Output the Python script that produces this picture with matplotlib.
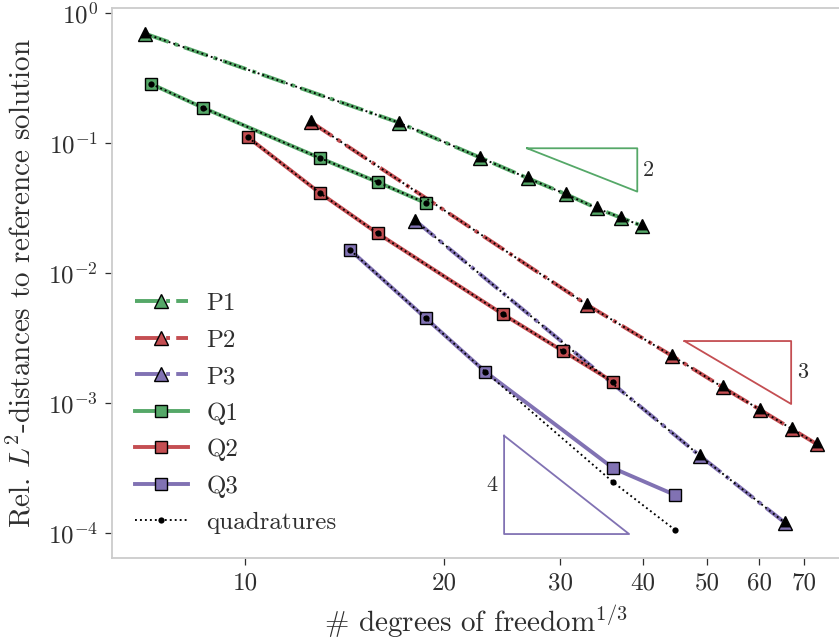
import matplotlib
matplotlib.use("Agg")
import matplotlib.pyplot as plt
from matplotlib.ticker import FixedLocator, NullLocator, LogLocator, LogFormatterSciNotation
from matplotlib.lines import Line2D

# ---------------- data ----------------
p1_x = [7.06, 17.1, 22.7, 26.8, 30.6, 34.05, 37.0, 39.8]
p1_y = [0.69, 0.1425, 0.0767, 0.0532, 0.0401, 0.0313, 0.0265, 0.0230]
p2_x = [12.6, 32.95, 44.2, 52.8, 60.2, 67.3, 73.3]
p2_y = [0.1435, 5.64e-3, 2.30e-3, 1.314e-3, 8.79e-4, 6.24e-4, 4.79e-4]
p3_x = [18.1, 48.8, 65.6]
p3_y = [0.0251, 3.89e-4, 1.19e-4]
q1_x = [7.21, 8.65, 12.98, 15.86, 18.75]
q1_y = [0.283, 0.185, 0.0762, 0.0498, 0.0344]
q2_x = [10.10, 12.98, 15.86, 24.52, 30.29, 36.06]
q2_y = [0.110, 0.0410, 0.0201, 4.81e-3, 2.485e-3, 1.443e-3]
q3_x = [14.42, 18.75, 23.08, 36.06, 44.71]
q3_y = [0.01495, 4.48e-3, 1.732e-3, 3.13e-4, 1.95e-4]

# quadrature-based errors
p1_quad = [0.69, 0.1425, 0.0767, 0.0532, 0.0401, 0.0313, 0.0265, 0.0230]
p2_quad = [0.1435, 5.64e-3, 2.30e-3, 1.314e-3, 8.79e-4, 6.24e-4, 4.79e-4]
p3_quad = [0.0251, 3.89e-4, 1.19e-4]
q1_quad = [0.283, 0.185, 0.0762, 0.0498, 0.0344]
q2_quad = [0.110, 0.0410, 0.0201, 4.81e-3, 2.485e-3, 1.443e-3]
q3_quad = [0.01495, 4.48e-3, 1.732e-3, 2.44e-4, 1.05e-4]

labels = ["P1", "P2", "P3", "Q1", "Q2", "Q3"]
xtick_vals = [10, 20, 30, 40, 50, 60, 70]
xtick_labels = ["10", "20", "30", "40", "50", "60", "70"]

# slope triangles: (x_start, x_end, y_top, slope, label)
slopes = [
    (26.7, 39.2, 0.0906, 2, "2"),
    (46.2, 67.0, 2.98e-3, 3, "3"),
    (24.65, 38.1, 5.57e-4, 4, "4"),
]

# ---------------- style ----------------
plt.rcParams["font.family"] = "serif"
plt.rcParams["font.serif"] = ["cmr10"]
plt.rcParams["mathtext.fontset"] = "cm"
plt.rcParams["axes.formatter.use_mathtext"] = True
plt.rcParams["axes.unicode_minus"] = False

green = "#55a868"
red = "#c44e52"
purple = "#8172b3"
txt = "#2e2e2e"

fig = plt.figure(figsize=(8.39, 6.43), dpi=100)
ax = fig.add_axes([112 / 839, (643 - 558.3) / 643, 727 / 839, 550.3 / 643])
ax.set_xscale("log")
ax.set_yscale("log")

LW = 2.8
QLW = 1.35
TRI_MS = 9.5
# black quadrature triangle: same apex, 80% size -> colored band at bottom
inner_tri = [(0, 1), (-0.8, -0.6), (0.8, -0.6)]

series = [
    (p1_x, p1_y, p1_quad, green, "-.", "^"),
    (p2_x, p2_y, p2_quad, red, "-.", "^"),
    (p3_x, p3_y, p3_quad, purple, "-.", "^"),
    (q1_x, q1_y, q1_quad, green, "-", "s"),
    (q2_x, q2_y, q2_quad, red, "-", "s"),
    (q3_x, q3_y, q3_quad, purple, "-", "s"),
]

handles = []
for (x, y, yq, c, ls, m), lab in zip(series, labels):
    ms = TRI_MS if m == "^" else 8.5
    h, = ax.plot(x, y, color=c, ls=ls, lw=LW, marker=m, ms=ms,
                 mfc=c, mec="black", mew=1.0, zorder=2, label=lab)
    handles.append(h)
for (x, y, yq, c, ls, m) in series:
    if m == "^":
        ax.plot(x, yq, color="black", ls=":", lw=QLW, marker=inner_tri, ms=TRI_MS,
                mfc="black", mec="black", mew=0, zorder=3)
    else:
        ax.plot(x, yq, color="black", ls=":", lw=QLW, marker="o", ms=4.5,
                mfc="black", mec="black", mew=0, zorder=3)

quad_handle = Line2D([], [], color="black", ls=":", lw=QLW, marker="o", ms=4.5,
                     mfc="black", mec="black", mew=0)
handles.append(quad_handle)

# slope triangles
tri_colors = [green, red, purple]
for (x0, x1, y0, s, lab), c in zip(slopes, tri_colors):
    y1 = y0 * (x0 / x1) ** s
    if s < 4:
        xs = [x0, x1, x1, x0]
        ys = [y0, y0, y1, y0]
        ax.plot(xs, ys, color=c, lw=1.3, zorder=1)
        ax.text(x1 * 1.02, (y0 * y1) ** 0.5, lab, fontsize=16, color=txt,
                ha="left", va="center")
    else:
        xs = [x0, x0, x1, x0]
        ys = [y0, y1, y1, y0]
        ax.plot(xs, ys, color=c, lw=1.3, zorder=1)
        ax.text(x0 / 1.025, (y0 * y1) ** 0.5, lab, fontsize=16, color=txt,
                ha="right", va="center")

ax.set_xlim(6.29, 79.15)
ax.set_ylim(6.35e-5, 1.087)

ax.xaxis.set_major_locator(FixedLocator(xtick_vals))
ax.xaxis.set_minor_locator(NullLocator())
ax.set_xticklabels(xtick_labels)
ax.yaxis.set_major_locator(LogLocator(base=10, numticks=10))
ax.yaxis.set_minor_locator(NullLocator())
ax.yaxis.set_major_formatter(LogFormatterSciNotation())

ax.tick_params(axis="both", which="major", length=5, width=0.9, color=txt,
               labelsize=18, labelcolor=txt, pad=5)

for side in ["left", "top", "bottom"]:
    ax.spines[side].set_color("#cccccc")
    ax.spines[side].set_linewidth(1.3)
ax.spines["right"].set_visible(False)

ax.set_xlabel(r"# degrees of freedom$^{1/3}$", fontsize=21, color=txt, labelpad=6)
ax.set_ylabel(r"Rel. $L^2$-distances to reference solution", fontsize=21,
              color=txt, labelpad=8)

leg = ax.legend(handles, labels + ["quadratures"], loc="lower left",
                bbox_to_anchor=((135 - 112) / 727, 0.044), frameon=False,
                fontsize=18, handlelength=2.1, handletextpad=0.75,
                labelspacing=0.56, borderpad=0, borderaxespad=0, numpoints=1)
for t in leg.get_texts():
    t.set_color(txt)

fig.savefig("out.png", dpi=100)
